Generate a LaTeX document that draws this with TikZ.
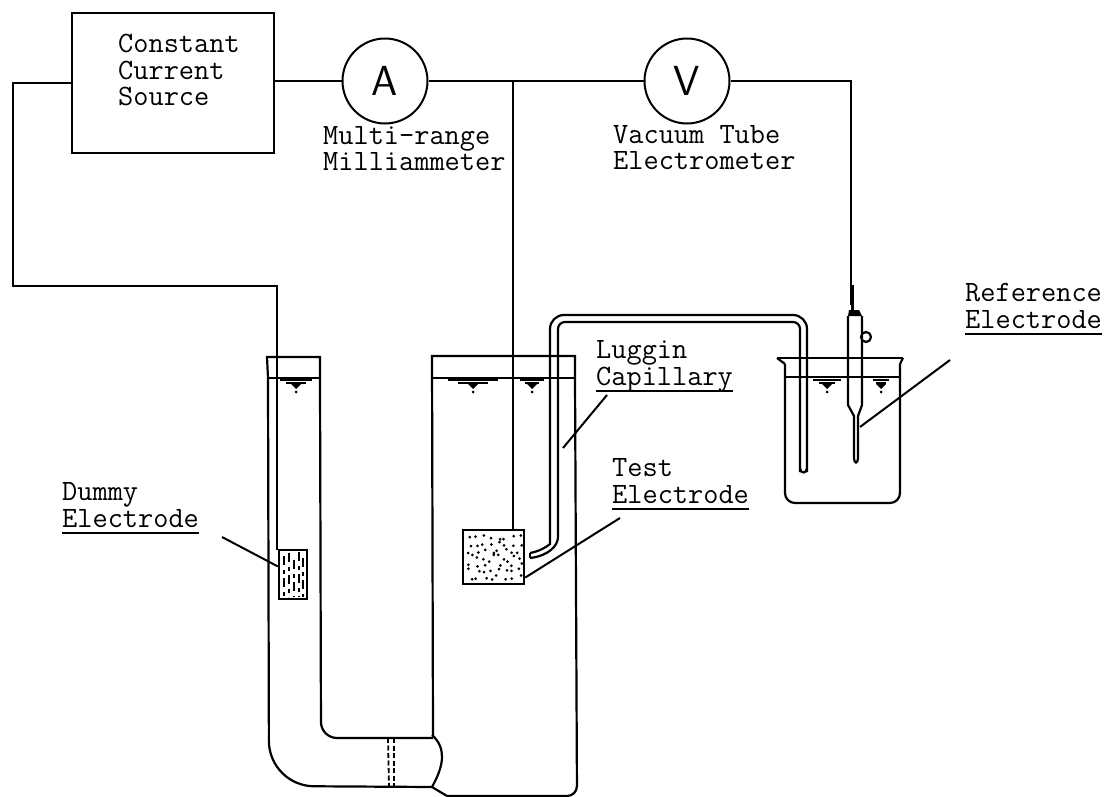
\documentclass[tikz,border=0pt]{standalone}
\usepackage{tikz}

\newcommand{\labelline}[1]{\setbox0=\hbox{#1}\rlap{\vrule width\wd0 height -4.5pt depth 6.8pt}\box0}

\tikzset{
    wire/.style={line width=2pt},
    glass/.style={line width=2.2pt},
    meter/.style={draw,circle,line width=2pt,minimum size=85pt,inner sep=0pt,font=\sffamily\fontsize{42}{42}\selectfont},
    plate/.style={draw,rectangle,line width=2.4pt,inner sep=0pt},
    tag/.style={align=left,anchor=base west,inner sep=0pt,font=\ttfamily\fontsize{29.5}{26.5}\selectfont}
}

\begin{document}
\begin{tikzpicture}[x=1pt,y=-1pt]
        \useasboundingbox (0,0) rectangle (1104,797);

        % instruments
        \node[draw,rectangle,line width=2.2pt,minimum width=202pt,minimum height=140pt,inner sep=0pt] (source) at (173,83) {};
        \node[meter] (amps) at (385,81) {A};
        \node[meter] (volts) at (687,81) {V};
        \node[plate,minimum width=61pt,minimum height=54pt] (test) at (493.5,557) {};
        \node[plate,minimum width=28pt,minimum height=49pt] (dummy) at (293,574.5) {};

        % labels
        \node[tag] (sourcelabel) at (118,106) {Constant\\Current\\Source};
        \node[tag] (ammlabel) at (323,171) {Multi-range\\Milliammeter};
        \node[tag] (voltlabel) at (613,170) {Vacuum Tube\\Electrometer};
        \node[tag] (lugginlabel) at (596,385) {Luggin\\\labelline{Capillary}};
        \node[tag] (testlabel) at (612,503) {Test\\\labelline{Electrode}};
        \node[tag] (dummylabel) at (62,527) {Dummy\\\labelline{Electrode}};
        \node[tag] (reflabel) at (965,328) {Reference\\\labelline{Electrode}};

        % wiring
        \coordinate (tap) at (513,81);
        \draw[wire] (source.east |- amps) -- (amps);
        \draw[wire] (amps.east) -- (tap) -- (volts.west);
        \draw[wire] (tap) -- (tap |- test.north);
        \draw[wire] (source.west |- 0,83) -- (13,83) -- (13,286) -- (277,286) -- (277,550);
        \draw[wire] (volts.east) -- (851,81) -- (851,305);

        % dummy cell and bridge
        \draw[glass] (268,378) -- (267,357) -- (320,357) -- (320,378);
        \draw[line width=1.5pt] (267,378) -- (320,378);
        \draw[glass,rounded corners=45pt] (268,378) -- (269,786) -- (432,787);
        \draw[glass,rounded corners=16pt] (320,378) -- (321,738) -- (433,738);
        \draw[line width=1.8pt,dash pattern=on 5pt off 2.5pt] (388,738) -- (389,787);
        \draw[line width=1.8pt,dash pattern=on 5pt off 2.5pt] (394,738) -- (394,787);
        \draw[glass] (432,735) .. controls (440,742) and (442,750) .. (442,757)
                .. controls (442,767) and (437,778) .. (432,787);

        % test cell
        \draw[glass] (433,736) -- (432,356) -- (575,356) -- (575,378);
        \draw[line width=1.5pt] (432,378) -- (575,378);
        \draw[glass,rounded corners=10pt] (575,378) -- (577,796) -- (447,796);
        \draw[glass] (447,796) -- (432,787);

        % capillary
        \draw[glass,rounded corners=14pt] (530,553) .. controls (542,551) and (550,544) .. (550,530)
                -- (550,315) -- (807,315) -- (807,472);
        \draw[glass,rounded corners=7pt] (530,558) .. controls (548,556) and (558,546) .. (558,530)
                -- (558,322) -- (800,322) -- (800,472);
        \draw[glass] (530,553) -- (530,558);
        \draw[glass] (800,468) .. controls (800,474) and (807,474) .. (807,468);

        % beaker
        \draw[glass] (777,358) -- (903,358);
        \draw[glass] (777,358) -- (785,364);
        \draw[glass] (903,358) -- (900,364);
        \draw[glass,rounded corners=10pt] (785,364) -- (785,503) -- (900,503) -- (900,364);
        \draw[line width=1.5pt] (785,377) -- (900,377);

        % reference electrode
        \draw[line width=3pt] (852,285) -- (852,310);
        \fill (848,316) -- (849,310) -- (859,310) -- (862,316) -- cycle;
        \draw[glass] (848,316) -- (848,405) -- (854,416) -- (854,458);
        \draw[glass] (862,316) -- (862,405) -- (858,416) -- (858,458);
        \draw[glass] (854,458) .. controls (854,464) and (858,464) .. (858,458);
        \draw[glass] (866,337) circle (5pt);

        % level marks
        \foreach \mx/\mw in {296/16,473/25,532/12,827/14,881/8}{
                \draw[line width=1.3pt] (\mx-\mw,380) -- (\mx+\mw,380);
                \draw[line width=1.1pt] (\mx-0.6*\mw,383) -- (\mx+0.6*\mw,383);
                \fill (\mx-5,384) -- (\mx+5,384) -- (\mx,389) -- cycle;
                \fill (\mx,392) circle (1.5pt);
        }

        % stipple
        \pgfmathsetseed{12}
        \foreach \gx in {0,...,7}{
                \foreach \gy in {0,...,6}{
                        \pgfmathsetmacro{\sx}{468+7*\gx+5*rnd}
                        \pgfmathsetmacro{\sy}{535+6.6*\gy+5*rnd}
                        \fill (\sx,\sy) circle (1.5pt);
                }
        }
        \foreach \sx/\sy in {284/556,289/553,294/560,299/552,303/558}{
                \draw[line width=1.5pt,dash pattern=on 9pt off 5pt on 4pt off 4pt] (\sx,\sy) -- (\sx,597);
        }

        % leaders
        \coordinate (dummyend) at (222,537);
        \coordinate (testend) at (620,518);
        \coordinate (lugginfoot) at (563,448);
        \coordinate (lugginend) at (607,395);
        \coordinate (reffoot) at (860,427);
        \coordinate (refend) at (950,360);
        \draw[wire] (dummyend) -- (dummy.152);
        \draw[wire] (testend) -- (test.-33);
        \draw[wire] (lugginend) -- (lugginfoot);
        \draw[wire] (refend) -- (reffoot);

\end{tikzpicture}
\end{document}
